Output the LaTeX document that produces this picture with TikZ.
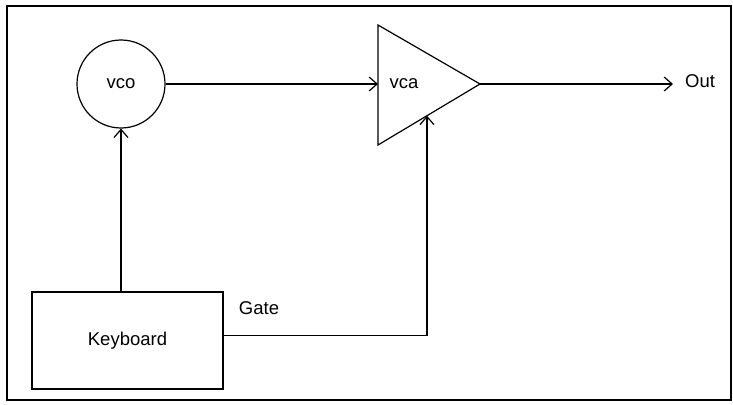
\documentclass[tikz,border=0pt]{standalone}
\usepackage{fontspec}
\setmainfont{Liberation Sans}
\usetikzlibrary{arrows.meta,calc}
\tikzset{
  sig/.style={line width=1.2pt,-{Straight Barb[length=8pt,width=14pt,line width=1.2pt]}},
  wire/.style={line width=1.2pt},
  lbl/.style={font=\fontsize{18.5}{20}\selectfont,inner sep=0pt}
}
\begin{document}
\begin{tikzpicture}[x=1pt,y=-1pt]
    \useasboundingbox (0,0) rectangle (733,404);
    % Marco
    \draw[line width=2pt] (7,6) rectangle (731,400);
    % Bloques
    \node[circle,draw,wire,minimum size=88pt,lbl] (vco) at (121,84) {vco};
    \node[draw,wire,minimum width=191pt,minimum height=97pt,lbl] (kbd) at (127.5,340.5) {Keyboard};
    % Triangulo del vca
    \coordinate (vcaT) at (378,25);
    \coordinate (vcaB) at (378,145);
    \coordinate (vcaA) at (480,84);
    \coordinate (vcaIn) at (378,84);
    \coordinate (vcaCv) at ($(vcaB)!0.48!(vcaA)$);
    \draw[wire,line join=miter] (vcaT) -- (vcaA) -- (vcaB) -- cycle;
    \node[lbl] (vca) at (404,84) {vca};
    % Salida
    \coordinate (out) at (673,84);
    \node[lbl,anchor=west] (outlbl) at (685,81) {Out};
    % Conexiones
    \draw[sig] (vco.east) -- (vcaIn);
    \draw[sig] (vcaA) -- (out);
    \draw[sig] (kbd.north -| vco.south) -- (vco.south);
    \draw[sig] ([yshift=5pt]kbd.east) -| (vcaCv);
    \node[lbl] (gate) at (259,308) {Gate};
\end{tikzpicture}
\end{document}
